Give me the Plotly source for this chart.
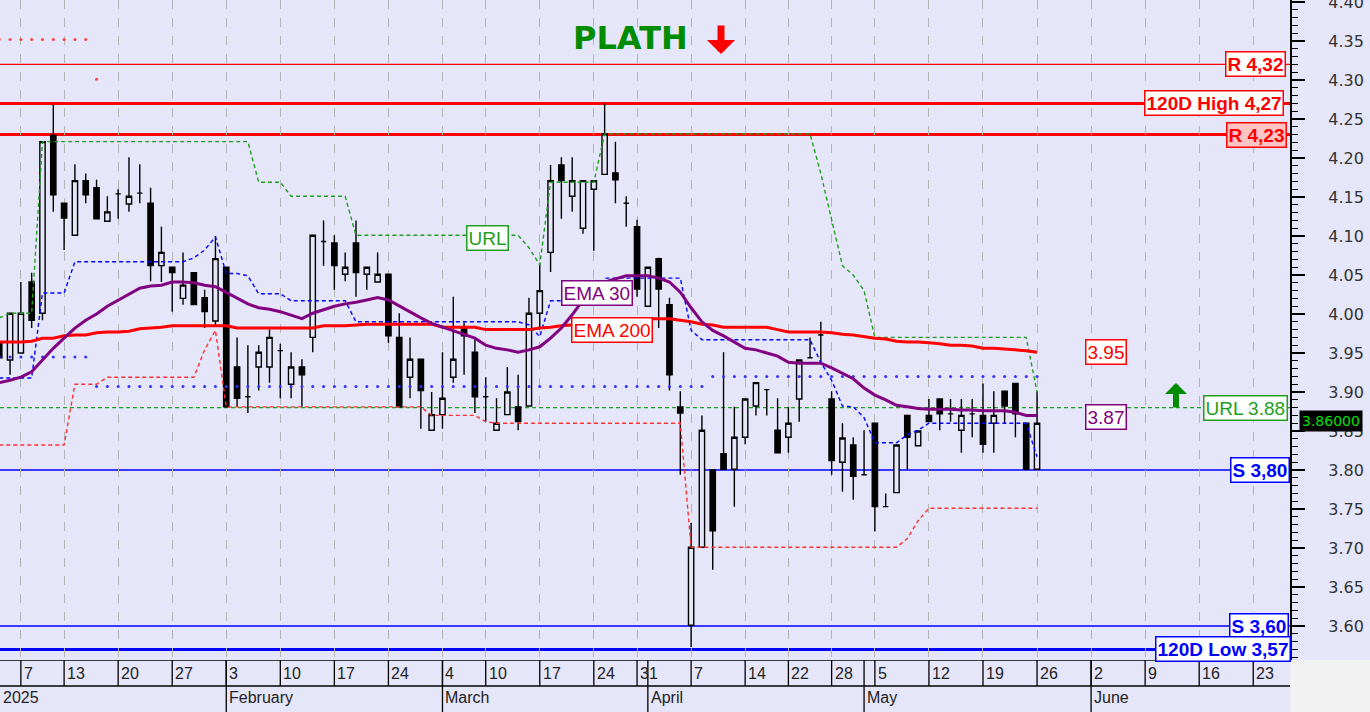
import plotly.graph_objects as go

# ---------------- data ----------------
# trading-day index 0 = 2 Jan 2025 ... 96 = 26 May 2025
day_idx = list(range(97))

opens = [3.964, 3.941, 3.950, 4.041, 4.001, 4.229, 4.142, 4.101, 4.171, 4.162,
         4.119, 4.154, 4.141, 4.155, 4.142, 4.062, 4.060, 4.020, 4.053, 4.021,
         3.991, 4.060, 3.932, 3.894, 3.932, 3.932, 3.953, 3.910, 3.932, 3.970,
         4.093, 4.091, 4.051, 4.091, 4.051, 4.041, 4.051, 3.970, 3.919, 3.942,
         3.851, 3.871, 3.919, 3.981, 3.951, 3.894, 3.851, 3.871, 3.881, 3.882,
         4.001, 4.079, 4.191, 4.151, 4.110, 4.160, 4.179, 4.181, 4.142, 4.112,
         4.010, 4.071, 4.012, 3.881, 3.601, 3.701, 3.800, 3.821, 3.801, 3.842,
         3.882, 3.903, 3.851, 3.842, 3.891, 3.944, 3.973, 3.891, 3.810, 3.832,
         3.794, 3.860, 3.753, 3.771, 3.870, 3.831, 3.870, 3.891, 3.872, 3.851,
         3.872, 3.870, 3.860, 3.901, 3.911, 3.860, 3.801]
highs = [3.975, 4.001, 4.041, 4.053, 4.221, 4.270, 4.142, 4.192, 4.180, 4.172,
         4.151, 4.160, 4.201, 4.192, 4.162, 4.112, 4.060, 4.079, 4.053, 4.031,
         4.100, 4.060, 3.970, 3.960, 3.960, 3.980, 3.962, 3.951, 3.942, 4.101,
         4.120, 4.101, 4.079, 4.120, 4.060, 4.079, 4.051, 4.001, 3.970, 3.942,
         3.900, 3.951, 4.022, 3.989, 3.970, 3.919, 3.892, 3.932, 3.922, 4.021,
         4.065, 4.191, 4.201, 4.201, 4.171, 4.171, 4.270, 4.221, 4.151, 4.121,
         4.060, 4.072, 4.021, 3.901, 3.732, 3.870, 3.800, 3.951, 3.881, 3.891,
         3.912, 3.903, 3.892, 3.881, 3.941, 3.970, 3.990, 3.901, 3.860, 3.842,
         3.851, 3.860, 3.770, 3.832, 3.870, 3.850, 3.891, 3.891, 3.891, 3.891,
         3.891, 3.911, 3.901, 3.901, 3.911, 3.860, 3.901]
lows = [3.935, 3.922, 3.950, 3.982, 3.992, 4.131, 4.082, 4.101, 4.142, 4.122,
        4.119, 4.122, 4.131, 4.142, 4.042, 4.041, 4.003, 4.012, 4.012, 3.982,
        3.986, 3.881, 3.881, 3.873, 3.902, 3.912, 3.892, 3.892, 3.881, 3.951,
        4.062, 4.031, 4.042, 4.022, 4.031, 4.041, 3.963, 3.881, 3.892, 3.853,
        3.851, 3.853, 3.912, 3.922, 3.873, 3.862, 3.851, 3.871, 3.851, 3.882,
        3.980, 4.054, 4.122, 4.131, 4.103, 4.081, 4.179, 4.142, 4.112, 4.022,
        4.010, 3.982, 3.902, 3.794, 3.573, 3.700, 3.672, 3.800, 3.753, 3.833,
        3.870, 3.870, 3.822, 3.822, 3.862, 3.944, 3.938, 3.794, 3.772, 3.762,
        3.794, 3.721, 3.753, 3.771, 3.801, 3.831, 3.862, 3.851, 3.862, 3.822,
        3.842, 3.822, 3.822, 3.860, 3.842, 3.800, 3.800]
closes = [3.944, 4.001, 4.001, 3.992, 4.221, 4.153, 4.123, 4.171, 4.153, 4.122,
          4.131, 4.154, 4.151, 4.155, 4.062, 4.079, 4.053, 4.037, 4.012, 4.003,
          4.071, 3.881, 3.892, 3.894, 3.951, 3.970, 3.953, 3.932, 3.922, 4.101,
          4.093, 4.062, 4.060, 4.053, 4.060, 4.051, 3.972, 3.881, 3.942, 3.902,
          3.871, 3.892, 3.942, 3.972, 3.894, 3.894, 3.860, 3.900, 3.862, 4.001,
          4.030, 4.171, 4.171, 4.171, 4.171, 4.171, 4.231, 4.172, 4.142, 4.032,
          4.060, 4.032, 3.922, 3.873, 3.701, 3.851, 3.722, 3.801, 3.842, 3.891,
          3.912, 3.903, 3.822, 3.860, 3.941, 3.944, 3.973, 3.812, 3.841, 3.792,
          3.794, 3.753, 3.753, 3.832, 3.842, 3.850, 3.862, 3.872, 3.872, 3.870,
          3.872, 3.833, 3.870, 3.882, 3.872, 3.801, 3.860]

ema30 = [3.912, 3.915, 3.919, 3.926, 3.941, 3.956, 3.969, 3.982, 3.992, 4.000,
         4.010, 4.018, 4.026, 4.033, 4.036, 4.037, 4.041, 4.041, 4.040, 4.037,
         4.035, 4.028, 4.021, 4.013, 4.008, 4.006, 4.003, 3.999, 3.994, 4.001,
         4.006, 4.010, 4.013, 4.015, 4.018, 4.021, 4.018, 4.010, 4.003, 3.995,
         3.988, 3.983, 3.979, 3.974, 3.969, 3.960, 3.956, 3.954, 3.951, 3.954,
         3.958, 3.969, 3.982, 3.999, 4.018, 4.031, 4.041, 4.045, 4.049, 4.049,
         4.049, 4.046, 4.041, 4.028, 4.008, 3.990, 3.979, 3.972, 3.964, 3.956,
         3.954, 3.950, 3.946, 3.938, 3.937, 3.937, 3.937, 3.931, 3.924, 3.917,
         3.905, 3.896, 3.890, 3.883, 3.881, 3.879, 3.878, 3.878, 3.878, 3.877,
         3.877, 3.876, 3.876, 3.876, 3.874, 3.870, 3.870]
ema200 = [3.964, 3.964, 3.964, 3.965, 3.969, 3.969, 3.972, 3.973, 3.973, 3.976,
          3.977, 3.977, 3.978, 3.981, 3.982, 3.983, 3.985, 3.985, 3.985, 3.985,
          3.985, 3.985, 3.982, 3.982, 3.982, 3.982, 3.982, 3.982, 3.982, 3.982,
          3.985, 3.985, 3.985, 3.986, 3.987, 3.987, 3.987, 3.987, 3.987, 3.987,
          3.987, 3.983, 3.983, 3.983, 3.983, 3.980, 3.980, 3.980, 3.980, 3.980,
          3.982, 3.983, 3.985, 3.986, 3.987, 3.988, 3.990, 3.991, 3.992, 3.993,
          3.994, 3.994, 3.994, 3.992, 3.990, 3.987, 3.986, 3.983, 3.983, 3.983,
          3.983, 3.983, 3.980, 3.977, 3.977, 3.977, 3.977, 3.976, 3.974, 3.973,
          3.971, 3.969, 3.968, 3.965, 3.964, 3.964, 3.963, 3.962, 3.960, 3.960,
          3.959, 3.956, 3.956, 3.955, 3.954, 3.953, 3.951]

upper_stop = [3.995, 4.001, 4.001, 4.001] + [4.221] * 20 + [4.169] * 3 + [4.151] * 6 + \
             [4.101] * 16 + [4.085, 4.063] + [4.169] * 5 + [4.231] * 20 + \
             [4.180, 4.120, 4.062, 4.050, 4.030] + [3.970] * 15 + [3.900]
mid_stop = [3.918] * 4 + [4.027] * 3 + [4.067] * 11 + [4.072, 4.082, 4.099, 4.052, 4.052, 4.049] + \
           [4.026] * 3 + [4.017] * 6 + [3.990] * 16 + [3.986, 3.971] + [4.017] * 5 + \
           [4.046] * 8 + [3.979] + [3.967] * 11 + [3.938, 3.915, 3.882, 3.881, 3.867] + \
           [3.835] * 3 + [3.845, 3.851] + [3.860] * 10 + [3.817]
lower_stop = [3.832] * 7 + [3.910] * 3 + [3.919] * 9 + [3.954, 3.979] + [3.881] * 19 + \
             [3.870] * 5 + [3.862] + [3.860] * 18 + [3.701] * 20 + [3.712, 3.735] + [3.751] * 11
band_dots = [3.945] * 9 + [3.907] * 57 + [3.920] * 31
top_dots_idx = list(range(10))
top_dots = [4.352] * 9 + [4.301]

resistances = [4.32, 4.23]
high_120 = 4.27
supports = [3.80, 3.60]
low_120 = 3.57
url_level = 3.88

tick_idx = [2, 6, 11, 16, 21, 26, 31, 36, 41, 45, 50, 55, 59, 64, 69, 73, 77, 81, 86, 91, 96,
            101, 106, 111, 116]
tick_labels = ["7", "13", "20", "27", "3", "10", "17", "24", "4", "10", "17", "24", "31",
               "7", "14", "22", "28", "5", "12", "19", "26", "2", "9", "16", "23"]
month_idx = [21, 41, 60, 80, 101]
month_labels = ["February", "March", "April", "May", "June"]
year_label = "2025"
ticker = "PLATH"

# ---------------- styles ----------------
BG = "#E6E6FA"
RED = "#ff0000"
BLUE = "#0000ff"
GREEN = "#1f9e1f"
PURPLE = "#800080"
LBL = "Liberation Sans, Arial, sans-serif"
AX = "DejaVu Sans, sans-serif"
X0, X1 = 0.07, 119.4
FS = 19

fig = go.Figure()

fig.add_trace(go.Candlestick(
    x=day_idx, open=opens, high=highs, low=lows, close=closes,
    increasing=dict(line=dict(color="black", width=1.4), fillcolor=BG),
    decreasing=dict(line=dict(color="black", width=1.4), fillcolor="black"),
    whiskerwidth=0, hoverinfo="skip", xaxis="x", yaxis="y"))

dash = "4px,3px"
fig.add_trace(go.Scatter(x=day_idx, y=upper_stop, mode="lines",
                         line=dict(color=GREEN, width=1.4, dash=dash), hoverinfo="skip"))
fig.add_trace(go.Scatter(x=day_idx, y=mid_stop, mode="lines",
                         line=dict(color=BLUE, width=1.4, dash=dash), hoverinfo="skip"))
fig.add_trace(go.Scatter(x=day_idx, y=lower_stop, mode="lines",
                         line=dict(color="#ff3030", width=1.4, dash=dash), hoverinfo="skip"))
fig.add_trace(go.Scatter(x=day_idx, y=band_dots, mode="markers",
                         marker=dict(color="#3030ff", size=3), hoverinfo="skip"))
fig.add_trace(go.Scatter(x=top_dots_idx, y=top_dots, mode="markers",
                         marker=dict(color="#ff4040", size=3), hoverinfo="skip"))
fig.add_trace(go.Scatter(x=day_idx, y=ema200, mode="lines",
                         line=dict(color=RED, width=3), hoverinfo="skip"))
fig.add_trace(go.Scatter(x=day_idx, y=ema30, mode="lines",
                         line=dict(color=PURPLE, width=3), hoverinfo="skip"))

# ---------------- level lines ----------------
def hline(v, color, width, dashstyle="solid"):
    fig.add_shape(type="line", xref="x", x0=X0, x1=X1, yref="y", y0=v, y1=v,
                  line=dict(color=color, width=width, dash=dashstyle), layer="below")

hline(resistances[0], RED, 1.3)
hline(high_120, RED, 3)
hline(resistances[1], RED, 3)
hline(supports[0], BLUE, 1.5)
hline(supports[1], BLUE, 1.3)
hline(low_120, BLUE, 3)
hline(url_level, GREEN, 1.4, dash)

def fmt(v):
    return f"{v:.2f}".replace(".", ",")

def level_label(v, text, color, bg="white", bold=True, shift=-2):
    fig.add_annotation(xref="paper", x=1, xanchor="right", xshift=shift, yref="y", y=v,
                       yanchor="middle", text=f"<b>{text}</b>" if bold else text,
                       showarrow=False, font=dict(family=LBL, size=FS, color=color),
                       bgcolor=bg, bordercolor=color, borderwidth=1.5, borderpad=1)

level_label(resistances[0], f"R {fmt(resistances[0])}", RED, shift=-4)
level_label(high_120, f"120D High {fmt(high_120)}", RED, shift=-6)
level_label(resistances[1], f"R {fmt(resistances[1])}", RED, bg="#ffc4c4", shift=-3)
level_label(supports[0], f"S {fmt(supports[0])}", BLUE, shift=0)
level_label(supports[1], f"S {fmt(supports[1])}", BLUE, shift=-1)
level_label(low_120, f"120D Low {fmt(low_120)}", BLUE, shift=1)
level_label(url_level, f"URL {url_level:.2f}", GREEN, bold=False, shift=-2)

def box_label(x, y, text, color):
    fig.add_annotation(xref="x", x=x, yref="y", y=y, text=text, showarrow=False,
                       font=dict(family=LBL, size=FS, color=color), bgcolor="white",
                       bordercolor=color, borderwidth=1.5, borderpad=1)

box_label(45.2, 4.097, "URL", GREEN)
box_label(55.3, 4.027, "EMA 30", PURPLE)
box_label(56.7, 3.979, "EMA 200", RED)
box_label(102.4, ema200[-1], f"{ema200[-1]:.2f}", RED)
box_label(102.4, ema30[-1] - 0.002, f"{ema30[-1]:.2f}", PURPLE)

# last price tag
fig.add_annotation(xref="paper", x=1, xanchor="left", xshift=9, yref="y", y=closes[-1] + 0.003,
                   text=f"{closes[-1]:.5f}", showarrow=False,
                   font=dict(family=AX, size=14, color="#00e000"), bgcolor="black",
                   borderpad=2)

# title and arrows
split = 52 / 712
def py(px):  # pixel row (from top) -> paper y
    return 1 - px / 712

fig.add_annotation(xref="paper", x=630 / 1290, yref="paper", y=py(38), yanchor="middle",
                   xanchor="center", text=f"<b>{ticker}</b>", showarrow=False,
                   font=dict(family=AX, size=32, color="#008c00"))
fig.add_annotation(xref="paper", x=721 / 1290, yref="paper", y=py(54), text="",
                   showarrow=True, ax=0, ay=-30, arrowhead=1, arrowwidth=7, arrowsize=0.67,
                   arrowcolor=RED)
fig.add_annotation(xref="paper", x=1176 / 1290, yref="paper", y=py(383), text="",
                   showarrow=True, ax=0, ay=26, arrowhead=1, arrowwidth=6, arrowsize=0.61,
                   arrowcolor="#008c00")

# ---------------- date axis panel ----------------
for t, lab in zip(tick_idx, tick_labels):
    fig.add_shape(type="line", xref="x2", x0=t, x1=t, yref="y2", y0=1, y1=2,
                  line=dict(color="black", width=1.3))
    fig.add_annotation(xref="x2", x=t, xanchor="left", xshift=1, yref="y2", y=1.5,
                       yanchor="middle", text=lab, showarrow=False,
                       font=dict(family=LBL, size=16, color="#222"))
for m, lab in zip(month_idx, month_labels):
    fig.add_shape(type="line", xref="x2", x0=m, x1=m, yref="y2", y0=0, y1=2,
                  line=dict(color="black", width=1.3))
    fig.add_annotation(xref="x2", x=m, xanchor="left", xshift=1, yref="y2", y=0.55,
                       yanchor="middle", text=lab, showarrow=False,
                       font=dict(family=LBL, size=16, color="#222"))
fig.add_annotation(xref="paper", x=0, xanchor="left", xshift=1, yref="y2", y=0.55,
                   yanchor="middle", text=year_label, showarrow=False,
                   font=dict(family=LBL, size=16, color="#222"))
fig.add_shape(type="line", xref="x2", x0=X0, x1=X1, yref="y2", y0=2, y1=2,
              line=dict(color="black", width=1.5))
fig.add_shape(type="line", xref="x2", x0=X0, x1=X1, yref="y2", y0=1, y1=1,
              line=dict(color="black", width=1.3))
fig.add_shape(type="rect", xref="paper", x0=1, x1=1.1, yref="paper", y0=-0.01, y1=split,
              fillcolor="#f2f2f2", line=dict(width=0), layer="below")

fig.update_layout(
    width=1370, height=712, margin=dict(l=0, r=80, t=0, b=0, autoexpand=False), autosize=False,
    paper_bgcolor=BG, plot_bgcolor=BG, showlegend=False,
    xaxis=dict(range=[X0, X1], tickvals=tick_idx, showticklabels=False, ticks="",
               showgrid=True, gridcolor="#b4b4b4", griddash="dash", gridwidth=1,
               zeroline=False, showline=False, rangeslider=dict(visible=False),
               anchor="y", fixedrange=True, automargin=False),
    yaxis=dict(domain=[split, 1], side="right", range=[3.5564, 4.4026], dtick=0.05, tick0=0,
               tickformat=".2f", ticks="outside", ticklen=13, tickwidth=1.5, tickcolor="black",
               tickprefix="\u00a0\u00a0\u00a0\u00a0", ticklabeloverflow="allow",
               automargin=False,
               showline=True, linecolor="black", linewidth=1.5, showgrid=False, zeroline=False,
               tickfont=dict(family=AX, size=16, color="#333"),
               minor=dict(dtick=0.01, tick0=0, ticklen=6, tickwidth=1, tickcolor="black",
                          ticks="outside", showgrid=False),
               fixedrange=True),
    xaxis2=dict(matches="x", anchor="y2", showticklabels=False, ticks="", showgrid=False,
                zeroline=False, showline=False, automargin=False),
    yaxis2=dict(domain=[0, split], range=[0, 2], showticklabels=False, ticks="",
                showgrid=False, zeroline=False, showline=False, fixedrange=True,
                automargin=False),
)

fig.write_html("out.html", config={"displayModeBar": False},
               post_script="document.body.style.margin='0';document.body.style.padding='0';")
